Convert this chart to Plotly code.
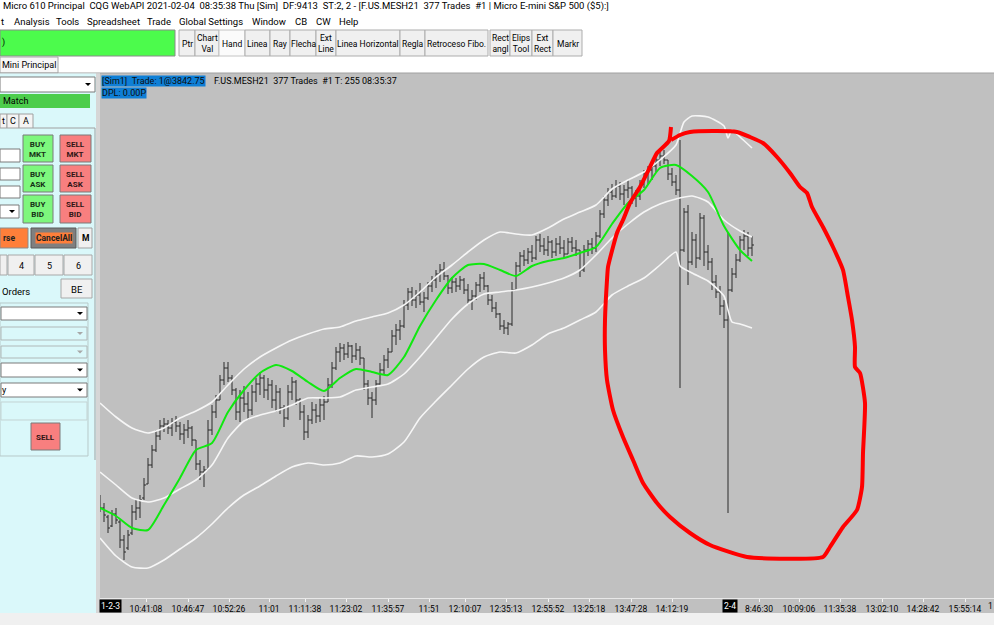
import plotly.graph_objects as go

FONT = "Roboto"

# ---------------- price bars (index, OHLC) ----------------
BAR_IDX = list(range(164))
HIGH = [3780.25, 3778.25, 3775.25, 3776.5, 3777, 3774, 3770.25, 3771.5, 3777.75, 3779,
        3780.25, 3784.5, 3789.5, 3792.75, 3796.5, 3799, 3799.5, 3799, 3799.5, 3800,
        3798.5, 3798, 3799, 3797.5, 3794, 3789, 3787.5, 3799, 3802.75, 3805.25,
        3810.25, 3813.5, 3813.5, 3810.25, 3807, 3806.5, 3807.5, 3806, 3807.75, 3809.5,
        3811, 3810.25, 3809.5, 3809, 3807.75, 3807, 3802.75, 3807.75, 3809.75, 3809,
        3804.5, 3802.75, 3800.25, 3803.5, 3803, 3804.5, 3805, 3809.5, 3813.5, 3817.25,
        3818.25, 3818, 3818.5, 3817.75, 3818.25, 3817.5, 3814.5, 3809, 3806, 3809,
        3813.25, 3815.25, 3817, 3821.5, 3823, 3824, 3829, 3832, 3832.25, 3831.5,
        3833.25, 3831, 3833.5, 3835, 3836.5, 3838, 3838.5, 3835.25, 3834.75, 3834.5,
        3835, 3834.5, 3833, 3831.5, 3833.5, 3835.5, 3836, 3832.75, 3830.25, 3828.5,
        3825.75, 3824, 3823.5, 3833.5, 3838.5, 3841, 3841.5, 3842, 3842.75, 3845,
        3845.5, 3844.5, 3845, 3844, 3844.5, 3845, 3844, 3844.5, 3844.75, 3844,
        3841.5, 3842.75, 3844, 3844.5, 3846, 3851.5, 3855, 3857, 3858, 3859,
        3858.5, 3857.75, 3859, 3857.5, 3856.5, 3859, 3861.5, 3862.5, 3863.5, 3865,
        3866, 3866.5, 3864, 3862, 3860.25, 3869, 3852, 3852.75, 3846, 3845.5,
        3850.75, 3850.25, 3842.75, 3839.5, 3835.25, 3832.5, 3829, 3846, 3837, 3840.5,
        3845, 3846.5, 3846, 3845]
LOW = [3776, 3773.5, 3770.75, 3772.25, 3773, 3767, 3764, 3766.5, 3770.25, 3774,
       3774.5, 3779, 3783, 3787, 3791, 3794, 3796, 3795.5, 3795, 3796,
       3794, 3793, 3794.5, 3792.5, 3786.5, 3784, 3782.25, 3786.5, 3795.25, 3799.5,
       3804, 3807.75, 3808.5, 3805.25, 3799, 3798.5, 3801, 3799, 3800.25, 3803.5,
       3805.25, 3804.5, 3804, 3802, 3801, 3800.5, 3797.25, 3799, 3804, 3802.75,
       3799, 3794, 3794.5, 3798, 3798.25, 3798.5, 3799, 3803.5, 3807, 3811.5,
       3813.5, 3814, 3814.5, 3813.25, 3814, 3812.75, 3806.5, 3802.75, 3799.5, 3802.75,
       3807.5, 3810.25, 3812, 3816, 3817.75, 3819, 3822, 3826.5, 3827.5, 3827,
       3827.75, 3826, 3829, 3831, 3832, 3833.5, 3834, 3830.5, 3830.75, 3831,
       3831.5, 3830.5, 3827.75, 3826.5, 3829, 3831, 3831.5, 3827.75, 3826, 3824.5,
       3821.5, 3820.5, 3820.25, 3822.5, 3831.5, 3836, 3837.5, 3838, 3838.5, 3839,
       3841, 3840.25, 3840, 3839.5, 3840, 3840.5, 3839.5, 3840.5, 3841, 3840,
       3834.75, 3836, 3840, 3840.5, 3841, 3844.5, 3849.5, 3852.5, 3854, 3854.5,
       3854, 3852.75, 3854.5, 3853, 3852.25, 3854, 3857, 3858, 3859, 3861,
       3862.5, 3863, 3859, 3857.5, 3855.25, 3807, 3841, 3832.75, 3837.75, 3837,
       3839, 3837.5, 3836.5, 3831.5, 3829.5, 3825.25, 3822, 3775.75, 3831, 3834.5,
       3838.5, 3841.5, 3840, 3840]
OPEN = [3779, 3777, 3774.75, 3772.5, 3775.5, 3773.5, 3769, 3767, 3770.75, 3776,
        3777, 3779.5, 3783, 3787.75, 3791.5, 3795, 3797.5, 3798, 3797, 3798.5,
        3797.5, 3795.5, 3796.5, 3797, 3794, 3788, 3786, 3786.5, 3796.5, 3801,
        3804, 3809, 3812, 3809.5, 3806.5, 3801, 3804.5, 3803, 3801.5, 3806,
        3808, 3809.5, 3806.5, 3807.75, 3804, 3806, 3802, 3799.5, 3806, 3808.5,
        3804, 3801, 3796, 3799, 3801.5, 3800, 3802.75, 3803.5, 3807.75, 3812,
        3816, 3817, 3815.5, 3817.5, 3815, 3816.5, 3814.5, 3808, 3804.5, 3804,
        3808, 3811.5, 3814, 3816, 3820, 3821.5, 3822.5, 3827.75, 3831, 3829,
        3830.25, 3828.5, 3829.5, 3832.5, 3834, 3835.5, 3836.5, 3835, 3832, 3833.5,
        3832.5, 3834, 3831.5, 3829, 3830, 3832.75, 3834.5, 3832.5, 3829, 3827,
        3825.5, 3822.5, 3822, 3823, 3831.5, 3837.5, 3840, 3839, 3841, 3839.5,
        3844, 3842.5, 3841.5, 3843.5, 3841, 3843, 3842, 3840.5, 3843.5, 3842,
        3841.5, 3836.5, 3841.5, 3843, 3842, 3845, 3850.5, 3854, 3856, 3855,
        3857.5, 3855.5, 3856.5, 3857, 3854.5, 3855, 3858, 3860.5, 3861.5, 3862.5,
        3864, 3865, 3864, 3860.5, 3858.5, 3856.5, 3841.5, 3851, 3838.5, 3844,
        3839.5, 3849.5, 3841, 3838.5, 3833.5, 3831, 3827.5, 3824, 3831.5, 3835.5,
        3839, 3844, 3845, 3842]
CLOSE = [3777, 3775.25, 3772, 3775.5, 3774, 3769, 3766, 3770.25, 3776, 3777,
         3779, 3782.75, 3787.75, 3791.5, 3795, 3797.5, 3798, 3797, 3798.5, 3797.5,
         3795.5, 3796.5, 3797, 3794, 3788, 3786, 3786.5, 3796.5, 3801, 3804,
         3809, 3812, 3809.5, 3806.5, 3801, 3804.5, 3803, 3801.5, 3806, 3808,
         3809.5, 3806.5, 3807.75, 3804, 3806, 3802, 3799.5, 3806, 3808.5, 3804,
         3801, 3796, 3799, 3801.5, 3800, 3802.75, 3803.5, 3807.75, 3812, 3816,
         3817, 3815.5, 3817.5, 3815, 3816.5, 3814.5, 3808, 3804.5, 3804, 3808,
         3811.5, 3814, 3816, 3820, 3821.5, 3822.5, 3827.75, 3831, 3829, 3830.25,
         3828.5, 3829.5, 3832.5, 3834, 3835.5, 3836.5, 3835, 3832, 3833.5, 3832.5,
         3834, 3831.5, 3829, 3830, 3832.75, 3834.5, 3832.5, 3829, 3827, 3825.5,
         3822.5, 3822, 3823, 3831.5, 3837.5, 3840, 3839, 3841, 3839.5, 3844,
         3842.5, 3841.5, 3843.5, 3841, 3843, 3842, 3840.5, 3843.5, 3842, 3841.5,
         3836.5, 3841.5, 3843, 3842, 3845, 3850.5, 3854, 3856, 3855, 3857.5,
         3855.5, 3856.5, 3857, 3854.5, 3855, 3858, 3860.5, 3861.5, 3862.5, 3864,
         3865, 3864, 3860.5, 3858.5, 3856.5, 3841.5, 3851, 3838.5, 3844, 3839.5,
         3849.5, 3841, 3838.5, 3833.5, 3831, 3827.5, 3824, 3831.5, 3835.5, 3839,
         3844, 3845, 3842, 3842.75]

# ---------------- indicator lines ----------------
MA_IDX = [0, 4, 8, 12, 16, 20, 24, 28, 32, 36, 40, 44, 48, 52, 56, 60, 64, 68, 72, 76,
          80, 84, 88, 92, 96, 100, 104, 108, 112, 116, 120, 124, 128, 132, 136, 140,
          144, 148, 152, 156, 160, 163]
GREEN_MA = [3777, 3775, 3772, 3771.5, 3777.75, 3784.5, 3791.5, 3793.25, 3801, 3806.5,
            3810.75, 3812.75, 3811.25, 3808.5, 3806.25, 3809.5, 3811.75, 3811, 3810.25, 3814.75,
            3822.5, 3829, 3834.5, 3837.75, 3838, 3836.5, 3835, 3837.5, 3838.75, 3839.5,
            3840.75, 3842.25, 3848, 3853.25, 3856.5, 3862, 3862.75, 3860, 3856, 3847.5,
            3841.5, 3838.75]
BAND_MID = [3786, 3782.75, 3779.5, 3778.5, 3779.5, 3781.75, 3784, 3787.75, 3794.5, 3798.75,
            3800.25, 3801.25, 3802.75, 3804.5, 3804.5, 3804.75, 3806.5, 3807.25, 3808, 3810.5,
            3814.75, 3819.5, 3824.25, 3828, 3830.5, 3831, 3831.5, 3832.25, 3833.25, 3834.5,
            3836.5, 3840.25, 3844.5, 3848, 3851, 3853, 3854.25, 3855, 3853.5, 3849,
            3846.25, 3844.75]
UPPER_IDX = [0, 4, 8, 12, 16, 20, 24, 28, 32, 36, 40, 44, 48, 52, 56, 60, 64, 68, 72, 76,
             80, 84, 88, 92, 96, 100, 104, 108, 112, 116, 120, 124, 128, 132, 136, 140,
             144, 146, 148, 152, 156, 157, 158, 160, 163]
BAND_UPPER = [3803.25, 3799.75, 3797, 3795.75, 3797, 3799.5, 3801.25, 3803.5, 3807.75, 3811.75,
              3814.75, 3817, 3819, 3820.5, 3821.75, 3822.25, 3823.75, 3824.75, 3825.75, 3827.75,
              3831, 3834.75, 3837.75, 3841, 3844, 3846, 3845.5, 3845.25, 3847, 3849.25,
              3851, 3852.75, 3856.75, 3859, 3861, 3864, 3867.75, 3873.5, 3875, 3874.75,
              3872.5, 3869.5, 3871.5, 3869.75, 3867]
LOWER_IDX = [0, 4, 8, 12, 16, 20, 24, 28, 32, 36, 40, 44, 48, 52, 56, 60, 64, 68, 72, 76,
             80, 84, 88, 92, 96, 100, 104, 108, 112, 116, 120, 124, 128, 132, 136, 140,
             144, 145, 148, 152, 156, 157, 158, 160, 163]
BAND_LOWER = [3769.5, 3765, 3762.25, 3762, 3764, 3766.75, 3769.5, 3773, 3777, 3780.25,
              3782.5, 3785, 3787.25, 3788.25, 3787.75, 3788.25, 3790, 3789.75, 3790.5, 3793.5,
              3799.5, 3803.75, 3807.75, 3811.75, 3814.75, 3816, 3815.75, 3817.75, 3820.5, 3822,
              3824, 3826, 3830.25, 3832.5, 3834.5, 3837.75, 3841, 3837.5, 3835.75, 3833.75,
              3830, 3826.5, 3823.5, 3823, 3822]

# ---------------- hand drawn red loop (bar index, price) ----------------
RED_X = [142.75, 142.25, 139.25, 137.5, 135, 132.5, 130.75, 129.25, 128.25, 127, 126.75,
         126.25, 126.25, 126.75, 128.25, 130.75, 133.25, 135.75, 139.25, 142.5, 147.5,
         152.5, 161.75, 180.75, 182.5, 185.75, 189.25, 190.5, 190.75, 191.25, 190, 188.75,
         188.75, 188, 187, 185.75, 183.25, 180.75, 178, 176.75, 175, 172.5, 169.25, 165.75,
         162.5, 159.25, 154.25, 147.5, 145, 142.75]
RED_Y = [3872.25, 3868.75, 3865.75, 3862.25, 3857.25, 3853.25, 3849, 3845.75, 3842.25, 3837.25,
         3834, 3824, 3816.5, 3809, 3801.5, 3794.75, 3789, 3783.25, 3778.25, 3774.75, 3770.75,
         3767.75, 3764.75, 3764.75, 3767.25, 3772.25, 3776.5, 3782.25, 3790.75, 3803.25,
         3810.75, 3812.25, 3817.25, 3824, 3829.75, 3836.5, 3842.25, 3847.25, 3852.25,
         3855.75, 3857.25, 3860.75, 3864.75, 3868.25, 3869.75, 3871, 3871.25, 3871, 3870.25,
         3869]

# ---------------- time axis ----------------
TICK_POS = [11.5, 22, 32.25, 42.25, 51.25, 61.5, 72, 82.25, 91.25, 101.5, 112, 122.25,
            132.75, 143, 164.75, 174.75, 185, 195.5, 205.75, 216.25]
TICK_TEXT = ["10:41:08", "10:46:47", "10:52:26", "11:01", "11:11:38", "11:23:02", "11:35:57",
             "11:51", "12:10:07", "12:35:13", "12:55:52", "13:25:18", "13:47:28", "14:12:19",
             "8:46:30", "10:09:06", "11:35:38", "13:02:10", "14:28:42", "15:55:14"]
SESSION_TEXT = ["1-2-3", "2-4"]
SESSION_POS = [2.6, 157.6]

# ---------------- page geometry helpers ----------------
W, H = 994, 625
ML, MR, MT, MB = 100, 0, 73, 27
PW, PH = W - ML - MR, H - MT - MB
shapes, annotations = [], []


def px(x):
    return (x - ML) / PW


def py(y):
    return (H - MB - y) / PH


def rect(x0, y0, x1, y1, fill="rgba(0,0,0,0)", line=None, lw=1):
    shapes.append(dict(type="rect", xref="paper", yref="paper", layer="below",
                       x0=px(x0), x1=px(x1), y0=py(y1), y1=py(y0), fillcolor=fill,
                       line=dict(color=line if line else "rgba(0,0,0,0)",
                                 width=lw if line else 0)))


def seg(x0, y0, x1, y1, color, lw=1):
    shapes.append(dict(type="line", xref="paper", yref="paper", layer="below",
                       x0=px(x0), x1=px(x1), y0=py(y0), y1=py(y1),
                       line=dict(color=color, width=lw)))


def label(x, y, s, size=9, color="#000", anchor="left", bg=None, bold=False):
    d = dict(xref="paper", yref="paper", x=px(x), y=py(y), text=("<b>%s</b>" % s) if bold else s,
             showarrow=False, xanchor=anchor, yanchor="middle", borderpad=0,
             font=dict(family=FONT, size=size, color=color))
    if bg:
        d["bgcolor"] = bg
    annotations.append(d)


def button(x0, y0, x1, y1, s, fill="#f0f0f0", line="#adadad", size=8.5, color="#000", bold=False):
    rect(x0, y0, x1, y1, fill, line)
    label((x0 + x1) / 2, (y0 + y1) / 2 + 0.5, s, size=size, color=color, anchor="center", bold=bold)


def arrow(cx, cy, color="#000"):
    path = "M %f,%f L %f,%f L %f,%f Z" % (px(cx - 3), py(cy - 1.5), px(cx + 3), py(cy - 1.5),
                                          px(cx), py(cy + 1.5))
    shapes.append(dict(type="path", xref="paper", yref="paper", layer="below", path=path,
                       fillcolor=color, line=dict(width=0)))


def dropdown(x0, y0, x1, y1, fill="#ffffff", border="#7a7a7a", acol="#000"):
    rect(x0, y0, x1, y1, fill, border)
    arrow(x1 - 7, (y0 + y1) / 2, acol)


NB = "\u00a0"

# ---- window chrome ----
rect(0, 0, 994, 73, "#ffffff")
label(2, 6, ("Micro 610 Principal  CQG WebAPI 2021-02-04  08:35:38 Thu [Sim]  DF:9413  ST:2, 2 - "
             "[F.US.MESH21  377 Trades  #1 | Micro E-mini S&P 500 ($5):]").replace("  ", NB + NB),
      size=9.5)
for txt, x in [("t", 0), ("Analysis", 13), ("Tools", 55), ("Spreadsheet", 86), ("Trade", 146),
               ("Global Settings", 178), ("Window", 251), ("CB", 294), ("CW", 315), ("Help", 338)]:
    label(x, 21, txt, size=9.5)

rect(0, 30, 175, 56, "#4cfb4c", "#8a8a8a")
label(1, 43, ")", size=9)
for txt, x0, x1, fill in [("Ptr", 179, 195, "#f0f0f0"), ("Chart<br>Val", 195, 219, "#f0f0f0"),
                          ("Hand", 219, 245, "#fbfbfb"), ("Linea", 245, 270, "#f0f0f0"),
                          ("Ray", 270, 290, "#f0f0f0"), ("Flecha", 290, 316, "#f0f0f0"),
                          ("Ext<br>Line", 316, 336, "#f0f0f0"), ("Linea Horizontal", 336, 400, "#f0f0f0"),
                          ("Regla", 400, 425, "#f0f0f0"), ("Retroceso Fibo.", 425, 488, "#f0f0f0"),
                          ("Rect<br>angl", 490, 510, "#f0f0f0"), ("Elips<br>Tool", 510, 532, "#f0f0f0"),
                          ("Ext<br>Rect", 532, 553, "#f0f0f0"), ("Markr", 553, 582, "#f0f0f0")]:
    button(x0, 30, x1, 56, txt, fill=fill, line="#c4c4c4" if fill == "#fbfbfb" else "#adadad", size=8.5)

rect(0, 57, 58, 73, "#f7f7f7", "#a8a8a8")
label(29, 65, "Mini Principal", size=9, anchor="center")
seg(0, 73, 994, 73, "#a0a0a0")

# ---- left order panel ----
rect(0, 73.5, 96, 613, "#daf8fa")
rect(96, 73.5, 100, 613, "#d6d6d6")
dropdown(0, 77, 95, 92)
rect(0, 94, 90, 108, "#4ccd4c")
label(2, 101, "Match", size=9)
for txt, x0, x1 in [("t", 0, 7), ("C", 7, 19), ("A", 19, 33)]:
    button(x0, 114, x1, 128, txt, fill="#f4f4f4", line="#a0a0a0", size=9)
seg(33, 128, 95, 128, "#a0a0a0")
seg(95, 128, 95, 460, "#a0a0a0")
for y0, y1 in [(149, 162), (168, 180), (186, 198)]:
    rect(0, y0, 20, y1, "#ffffff", "#7a7a7a")
dropdown(0, 205, 19, 218)
for y0, y1, kind in [(135, 162, "MKT"), (165, 192, "ASK"), (195, 223, "BID")]:
    button(23, y0, 53, y1, "BUY<br>" + kind, fill="#7df77d", line="#7a7a7a", size=8, color="#163016", bold=True)
    button(60, y0, 91, y1, "SELL<br>" + kind, fill="#f87f7f", line="#7a7a7a", size=8, color="#301616", bold=True)
rect(0, 228, 28, 248, "#ff7f3a", "#8a8a8a")
label(2, 238, "rse", size=8.5, color="#222", bold=True)
rect(31, 228, 76, 248, "#7f7f7f", "#5a5a5a")
label(53.5, 238, "CancelAll", size=8.5, color="#222", anchor="center", bg="#ff7f3a", bold=True)
button(78, 228, 92, 248, "M", fill="#f0f0f0", line="#a0a0a0", size=8.5, bold=True)
rect(0, 255, 7, 275, "#f0f0f0", "#a8a8a8")
for txt, x0, x1 in [("4", 8, 34), ("5", 35, 63), ("6", 64, 92)]:
    button(x0, 255, x1, 275, txt, fill="#f0f0f0", line="#a8a8a8", size=9)
label(1, 291, "Orders", size=9.5)
button(61, 279, 92, 298, "BE", fill="#f0f0f0", line="#a8a8a8", size=9.5)
rect(0, 303, 88, 456, None, "#b7c9c9")
dropdown(1, 307, 87, 320)
dropdown(1, 327, 87, 340, fill="#daf8fa", border="#b0b8b8", acol="#a8a8a8")
dropdown(1, 346, 87, 358, fill="#daf8fa", border="#b0b8b8", acol="#a8a8a8")
dropdown(1, 363, 87, 377)
dropdown(1, 383, 87, 397)
label(1, 390, "y", size=9)
rect(1, 402, 87, 420, None, "#c3d3d3")
button(31, 423, 60, 450, "SELL", fill="#f87f7f", line="#7a7a7a", size=8, color="#301616", bold=True)

# ---- time axis strip ----
rect(100, 598, 994, 613, "#c0c0c0")
for txt, pos in zip(SESSION_TEXT, SESSION_POS):
    annotations.append(dict(xref="x", yref="paper", x=pos, y=py(606), text=txt, showarrow=False,
                            xanchor="center", yanchor="middle", bgcolor="#000000", borderpad=1,
                            font=dict(family=FONT, size=8.5, color="#ffffff")))
label(987, 606, "1", size=8.5)

# ---- chart header ----
label(101, 81, "[Sim1]" + NB + NB + "Trade: 1@3842.75", size=9, color="#0d0d0d", bg="#0f7fd6")
label(213, 81, "F.US.MESH21" + NB + NB + "377 Trades" + NB + NB + "#1 T: 255 08:35:37", size=9)
label(101, 93, "DPL: 0.00P", size=9, color="#0d0d0d", bg="#0f7fd6")

# ---------------- figure ----------------
fig = go.Figure()
for xs, ys in [(UPPER_IDX, BAND_UPPER), (MA_IDX, BAND_MID), (LOWER_IDX, BAND_LOWER)]:
    fig.add_trace(go.Scatter(x=xs, y=ys, mode="lines", hoverinfo="skip",
                             line=dict(color="#f6f6f6", width=1.6, shape="spline", smoothing=0.6)))
fig.add_trace(go.Ohlc(x=BAR_IDX, open=OPEN, high=HIGH, low=LOW, close=CLOSE, tickwidth=0.5,
                      increasing=dict(line=dict(color="#2a2a2a", width=1)),
                      decreasing=dict(line=dict(color="#2a2a2a", width=1)),
                      hoverinfo="skip"))
fig.add_trace(go.Scatter(x=MA_IDX, y=GREEN_MA, mode="lines", hoverinfo="skip",
                         line=dict(color="#10e810", width=2, shape="spline", smoothing=0.6)))
fig.add_trace(go.Scatter(x=RED_X, y=RED_Y, mode="lines", hoverinfo="skip",
                         line=dict(color="#ff0000", width=4, shape="spline", smoothing=0.5)))

fig.update_layout(
    width=W, height=H, margin=dict(l=ML, r=MR, t=MT, b=MB, pad=0),
    paper_bgcolor="#f0f0f0", plot_bgcolor="#c0c0c0", showlegend=False, hovermode=False,
    shapes=shapes, annotations=annotations,
    xaxis=dict(range=[0, 223.5], tickvals=TICK_POS, ticktext=TICK_TEXT, ticks="outside",
               ticklen=3, tickcolor="#f2f2f2", showgrid=False, zeroline=False, showline=True,
               linecolor="#e8e8e8", linewidth=1, tickfont=dict(family=FONT, size=8.5, color="#000"),
               rangeslider=dict(visible=False), fixedrange=True),
    yaxis=dict(range=[3754.5, 3885.75], showticklabels=False, showgrid=False, zeroline=False,
               ticks="", fixedrange=True),
)

fig.write_html("out.html", config={"displayModeBar": False, "staticPlot": True},
               post_script="document.body.style.margin='0';document.body.style.overflow='hidden';")
